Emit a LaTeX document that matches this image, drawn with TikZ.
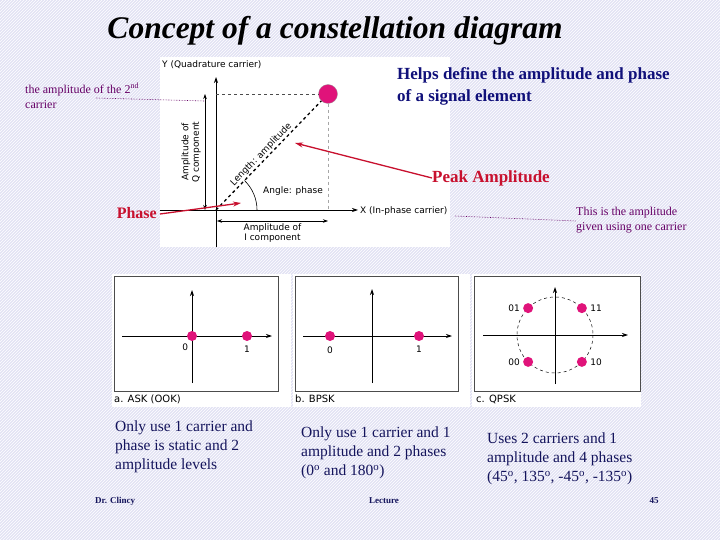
\documentclass[tikz,border=0pt]{standalone}
\usepackage{fontspec}
\setmainfont{Liberation Serif}
\setsansfont{DejaVu Sans}
\usetikzlibrary{arrows.meta,positioning,calc,patterns}
\definecolor{slidebg}{HTML}{E2E2F4}
\definecolor{navy}{HTML}{10107A}
\definecolor{crimson}{HTML}{C8102E}
\definecolor{plum}{HTML}{660066}
\definecolor{dotpink}{HTML}{E0137A}
\definecolor{ink}{HTML}{14145C}

\tikzset{
  axis/.style={line width=0.8pt,-{Stealth[length=6pt,width=4pt]}},
  dim/.style={line width=0.6pt,{Stealth[length=5pt,width=3.5pt]}-{Stealth[length=5pt,width=3.5pt]}},
  sig/.style={circle,fill=dotpink,inner sep=0pt,minimum size=10pt},
  figlbl/.style={font=\sffamily\fontsize{9}{10.5}\selectfont,inner sep=1pt},
  redarrow/.style={crimson,line width=1.3pt,-{Stealth[length=8pt,width=5pt]}},
  leader/.style={plum,densely dotted,line width=0.6pt},
  note/.style={font=\fontsize{12}{15}\selectfont,text=plum,align=left,inner sep=0pt},
  body/.style={font=\fontsize{15.5}{19}\selectfont,text=ink,align=left,anchor=north west,inner sep=0pt},
  foot/.style={font=\bfseries\fontsize{9}{10}\selectfont,text=ink,inner sep=0pt},
  panel/.style={draw=black!70,line width=0.6pt},
  caption/.style={font=\sffamily\fontsize{10}{12}\selectfont,inner sep=1pt,anchor=west},
}

\begin{document}
\begin{tikzpicture}[x=1pt,y=-1pt]
  \useasboundingbox (0,0) rectangle (720,540);
  \fill[slidebg] (0,0) rectangle (720,540);
  \fill[pattern=north east lines,pattern color=white] (0,0) rectangle (720,540);

  \node[font=\fontsize{31.5}{36}\selectfont\bfseries\itshape] (title) at (335,31)
    {Concept of a constellation diagram};

  % upper figure
  \fill[white] (160,57) rectangle (450,247);
  \coordinate (O) at (216,210);
  \draw[axis] (216,247) -- (216,77);
  \draw[axis] (160,210) -- (358,210);
  \node[figlbl,anchor=west] (ylbl) at (161,65) {Y (Quadrature carrier)};
  \node[figlbl,anchor=west] (xlbl) at (359,211) {X (In-phase carrier)};
  \node[sig,minimum size=19pt,draw=black!40,line width=0.3pt] (P) at (328,94) {};
  \draw[dashed,black!70,line width=0.7pt] (216,94) -- (P.west);
  \draw[dashed,black!35,line width=0.7pt] (P.south) -- (P |- O);
  \draw[dashed,line width=1.3pt] (O) -- (P)
    node[figlbl,pos=0.47,sloped,above] (len) {Length: amplitude};
  \draw[line width=0.6pt] (O) ++(41,0) arc[start angle=0,end angle=-46,radius=41];
  \node[figlbl,anchor=west] (ang) at (262,191) {Angle: phase};
  \draw[dim] (205,94) -- (205,210)
    node[figlbl,midway,left=3pt,rotate=90,anchor=south,align=center] (qamp) {Amplitude of\\Q component};
  \draw[dim] (217,221) -- (328,221)
    node[figlbl,midway,below=1pt,align=center] (iamp) {Amplitude of\\I component};

  % annotations
  \node[font=\bfseries\fontsize{17}{22}\selectfont,text=navy,align=left,anchor=north west,inner sep=0pt]
    (helps) at (397,67) {Helps define the amplitude and phase\\of a signal element};
  \node[font=\bfseries\fontsize{17}{19}\selectfont,text=crimson,anchor=west,inner sep=0pt]
    (peak) at (432,178) {Peak Amplitude};
  \draw[redarrow] (peak.west) -- (295,143);
  \node[font=\bfseries\fontsize{16}{19}\selectfont,text=crimson,anchor=east,inner sep=0pt]
    (phase) at (157,213) {Phase};
  \draw[redarrow] (phase.east) ++(3,1) -- (241,203);
  \node[note,anchor=north west] (second) at (25,83) {the amplitude of the 2\textsuperscript{nd}\\carrier};
  \coordinate (qend) at (205,101);
  \draw[leader] (96,98) -- (qend);
  \node[note,anchor=north west] (onecar) at (576,207) {This is the amplitude\\given using one carrier};
  \draw[leader] (455,216) -- (onecar.west |- 0,221);

  % panel a: ASK
  \fill[white] (112,274) rectangle (291,407);
  \draw[panel] (114,276) rectangle (278,391);
  \draw[axis] (122,336) -- (272,336);
  \draw[axis] (192,383) -- (192,290);
  \node[sig] (a0) at (192,336) {};
  \node[sig] (a1) at (247,336) {};
  \node[figlbl,below left=3pt and -1pt of a0] {0};
  \node[figlbl,below=4pt of a1] {1};
  \node[caption] (capa) at (113,399) {a. ASK (OOK)};

  % panel b: BPSK
  \fill[white] (293,274) rectangle (470,407);
  \draw[panel] (295,276) rectangle (458,391);
  \draw[axis] (303,336) -- (452,336);
  \draw[axis] (372,383) -- (372,289);
  \node[sig] (b0) at (330,336) {};
  \node[sig] (b1) at (419,336) {};
  \node[figlbl,below=4pt of b0] {0};
  \node[figlbl,below=4pt of b1] {1};
  \node[caption] (capb) at (294,399) {b. BPSK};

  % panel c: QPSK
  \fill[white] (472,274) rectangle (641,407);
  \draw[panel] (474,276) rectangle (640,391);
  \coordinate (C) at (555,335);
  \draw[dashed,line width=0.5pt] (C) circle[radius=38];
  \draw[axis] (483,335) -- (628,335);
  \draw[axis] (555,384) -- (555,287);
  \foreach \ang/\bits/\side in {-45/11/right,-135/01/left,135/00/left,45/10/right}
    \node[sig] (q\bits) at ($(C)+(\ang:38)$) {}
      node[figlbl,\side=2pt of q\bits] {\bits};
  \node[caption] (capc) at (475,399) {c. QPSK};

  % descriptions
  \node[body] (txta) at (115,421) {Only use 1 carrier and\\phase is static and 2\\amplitude levels};
  \node[body] (txtb) at (301,427) {Only use 1 carrier and 1\\amplitude and 2 phases\\(0\textsuperscript{o} and 180\textsuperscript{o})};
  \node[body] (txtc) at (487,433) {Uses 2 carriers and 1\\amplitude and 4 phases\\(45\textsuperscript{o}, 135\textsuperscript{o}, -45\textsuperscript{o}, -135\textsuperscript{o})};

  % footer
  \node[foot,anchor=west] (author) at (95,501) {Dr. Clincy};
  \node[foot] (course) at (384,501) {Lecture};
  \node[foot] (page) at (654,501) {45};
\end{tikzpicture}
\end{document}
